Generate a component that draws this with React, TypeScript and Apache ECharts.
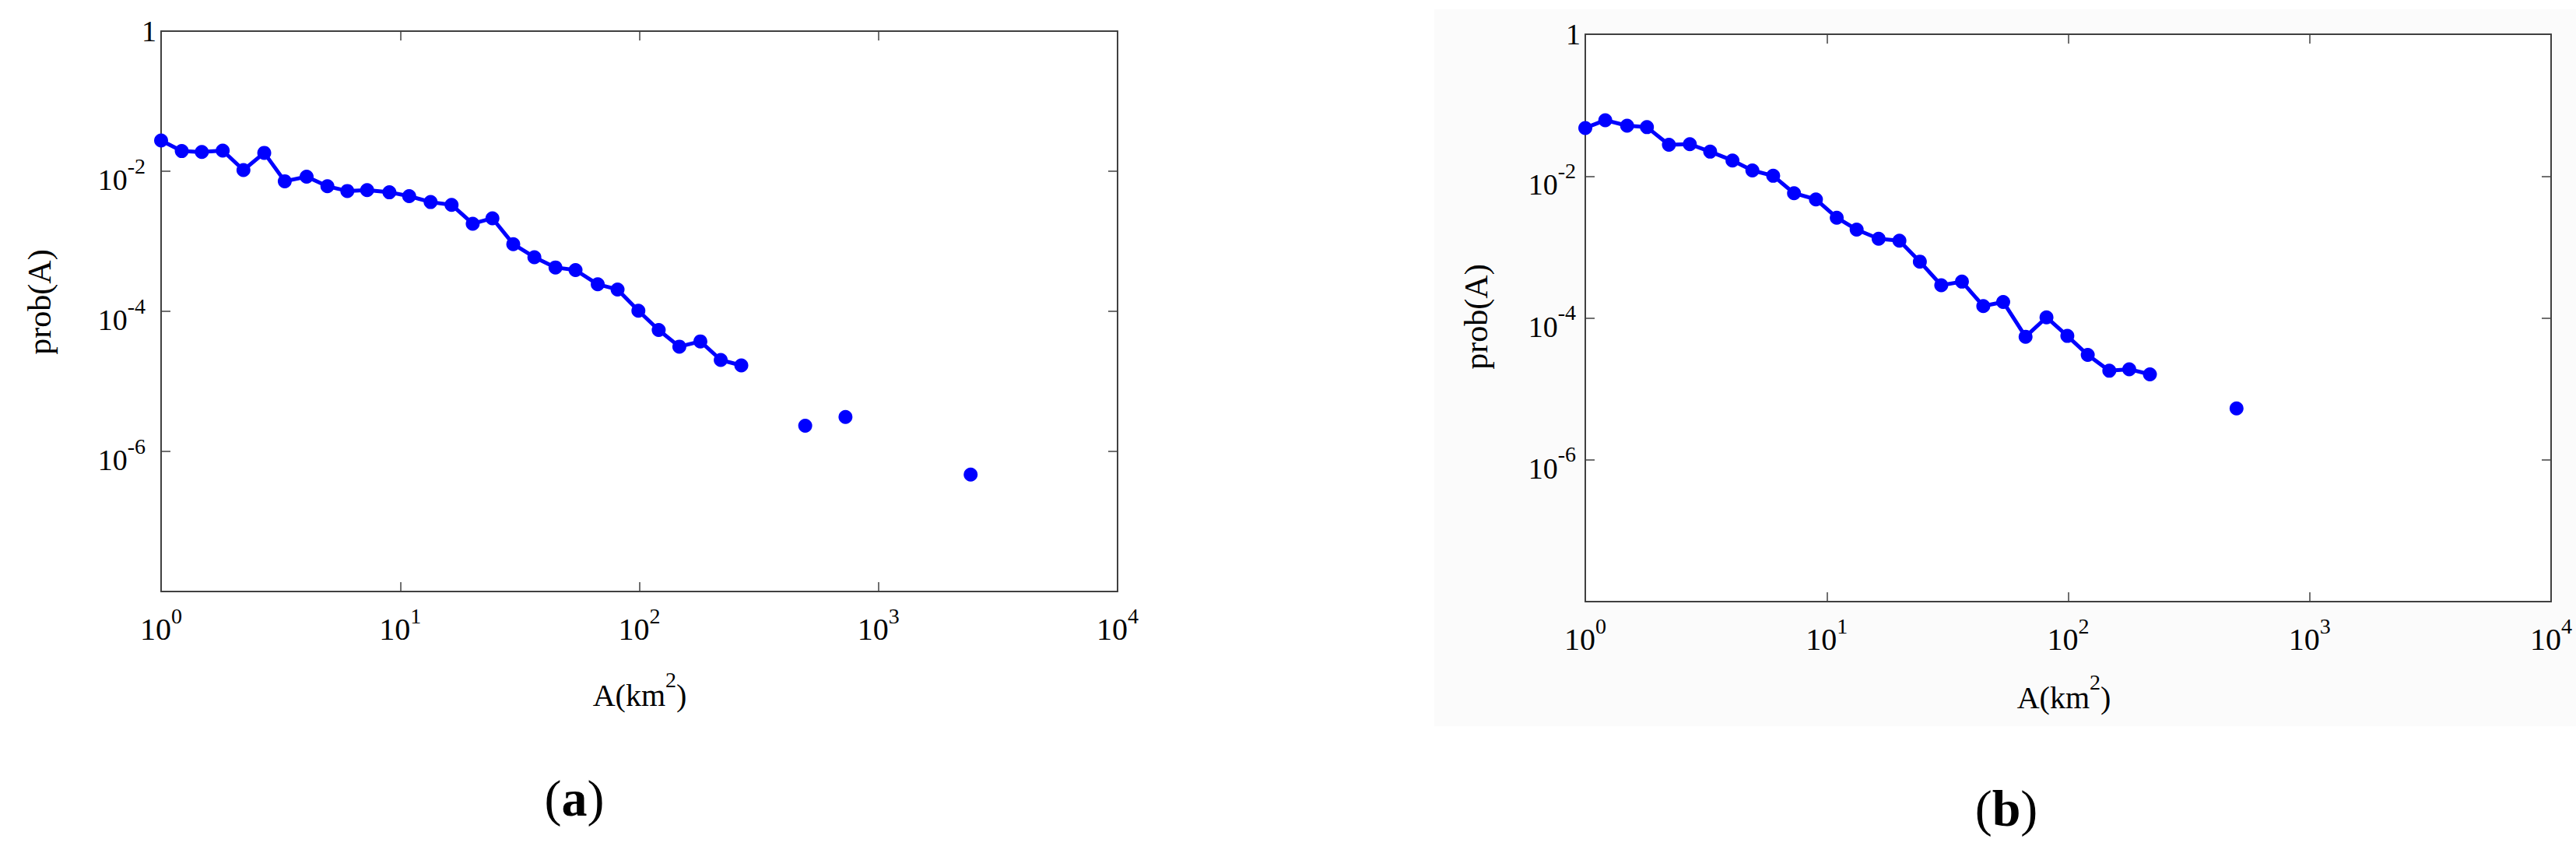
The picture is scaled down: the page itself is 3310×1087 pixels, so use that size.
import React, { useEffect, useRef } from "react";
import * as echarts from "echarts";

// ---- data ----
const leftLineX = [1, 1.22, 1.48, 1.81, 2.21, 2.7, 3.29, 4.06, 4.96, 6.01, 7.27, 9.01, 10.9, 13.4, 16.4, 20.1, 24.3, 29.7, 36.4, 44.6, 54.1, 67.0, 81.1, 99.1, 120.5, 147, 180, 219, 267];
const leftLineY = [0.0275, 0.0194, 0.0188, 0.0197, 0.0104, 0.0183, 0.00719, 0.00836, 0.0061, 0.00522, 0.00537, 0.005, 0.00441, 0.00363, 0.00331, 0.00178, 0.00213, 0.00091, 0.000593, 0.000423, 0.000388, 0.000243, 0.000205, 0.000102, 5.42e-5, 3.13e-5, 3.72e-5, 2.02e-5, 1.69e-5];
const leftIsoX = [494, 728, 2430];
const leftIsoY = [2.33e-6, 3.1e-6, 4.68e-7];

const rightLineX = [1, 1.21, 1.49, 1.8, 2.22, 2.71, 3.29, 4.07, 4.92, 6.0, 7.32, 9.02, 11.0, 13.3, 16.4, 20.0, 24.3, 29.8, 36.3, 44.5, 53.8, 66.6, 81.3, 99.2, 120.5, 148, 179, 218];
const rightLineY = [0.0477, 0.0614, 0.0513, 0.049, 0.0277, 0.0282, 0.0221, 0.0166, 0.012, 0.0101, 0.00574, 0.00469, 0.00259, 0.00176, 0.00131, 0.00123, 0.000622, 0.000289, 0.000325, 0.000147, 0.000168, 5.43e-5, 0.000102, 5.58e-5, 3.01e-5, 1.8e-5, 1.89e-5, 1.6e-5];
const rightIsoX = [498];
const rightIsoY = [5.31e-6];

const xMin = 1;
const xMax = 10000;
const yMin = 1e-8;
const yMax = 1;

const yAxisTitle = "prob(A)";
const xAxisTitleBase = "A(km";
const xAxisTitleSup = "2";
const panelLabels = ["a", "b"];

const FONT = "'Liberation Serif', 'Times New Roman', Times, serif";
const BLUE = "#0000ff";
const AXIS = "#404040";

const zip = (xs: number[], ys: number[]) => xs.map((x, i) => [x, ys[i]]);
const exp10 = (v: number) => Math.round(Math.log10(v));

function yRich(padR: number) {
  return {
    b: { fontSize: 38, fontFamily: FONT, color: "#000", lineHeight: 60, verticalAlign: "bottom" },
    s: { fontSize: 28, fontFamily: FONT, color: "#000", lineHeight: 20, verticalAlign: "top", padding: [9, padR, 0, 0] },
    o: { fontSize: 38, fontFamily: FONT, color: "#000", lineHeight: 40 },
  };
}
const xRich = {
  b: { fontSize: 40, fontFamily: FONT, color: "#000", lineHeight: 60, verticalAlign: "bottom" },
  s: { fontSize: 28, fontFamily: FONT, color: "#000", lineHeight: 20, verticalAlign: "top", padding: [9, 0, 0, 0] },
};

function xAxes(gi: number) {
  const common = {
    type: "log",
    logBase: 10,
    min: xMin,
    max: xMax,
    interval: 1,
    gridIndex: gi,
    splitLine: { show: false },
    axisLine: { show: true, onZero: false, lineStyle: { color: AXIS, width: 2 } },
    axisTick: { show: true, inside: true, length: 12, lineStyle: { color: AXIS, width: 1.5 } },
  };
  return [
    {
      ...common,
      position: "bottom",
      axisLabel: {
        margin: 8,
        formatter: (v: number) => `{b|10}{s|${exp10(v)}}`,
        rich: xRich,
      },
    },
    { ...common, position: "top", axisLabel: { show: false } },
  ];
}

function yAxes(gi: number, padR: number) {
  const common = {
    type: "log",
    logBase: 10,
    min: yMin,
    max: yMax,
    interval: 2,
    gridIndex: gi,
    splitLine: { show: false },
    axisLine: { show: true, onZero: false, lineStyle: { color: AXIS, width: 2 } },
    axisTick: { show: true, inside: true, length: 12, lineStyle: { color: AXIS, width: 1.5 } },
  };
  return [
    {
      ...common,
      position: "left",
      axisLabel: {
        margin: 6,
        showMinLabel: false,
        formatter: (v: number) => {
          const e = exp10(v);
          return e === 0 ? "{o|1}" : `{b|10}{s|${e}}`;
        },
        rich: yRich(padR),
      },
    },
    { ...common, position: "right", axisLabel: { show: false } },
  ];
}

function lineSeries(xi: number, xs: number[], ys: number[]) {
  return {
    type: "line",
    xAxisIndex: xi,
    yAxisIndex: xi,
    data: zip(xs, ys),
    symbol: "circle",
    symbolSize: 18,
    showSymbol: true,
    lineStyle: { color: BLUE, width: 5 },
    itemStyle: { color: BLUE, opacity: 1 },
  };
}
function dotSeries(xi: number, xs: number[], ys: number[]) {
  return {
    type: "scatter",
    xAxisIndex: xi,
    yAxisIndex: xi,
    data: zip(xs, ys),
    symbol: "circle",
    symbolSize: 18,
    itemStyle: { color: BLUE, opacity: 1 },
  };
}

const titleRich = {
  m: { fontSize: 40, fontFamily: FONT, fill: "#000", lineHeight: 60, verticalAlign: "bottom" },
  s: { fontSize: 28, fontFamily: FONT, fill: "#000", lineHeight: 20, verticalAlign: "top", padding: [6, 0, 0, 0] },
};
const panelRich = {
  p: { fontSize: 66, fontFamily: FONT, fill: "#000" },
  l: { fontSize: 66, fontFamily: FONT, fontWeight: "bold", fill: "#000" },
};

export default function App() {
  const ref = useRef<HTMLDivElement>(null);
  useEffect(() => {
    document.body.style.margin = "0";
    const chart = echarts.init(ref.current!, null, { renderer: "svg" });
    const option: any = {
      animation: false,
      backgroundColor: "#ffffff",
      grid: [
        { left: 207, top: 40, width: 1229, height: 720, show: true, backgroundColor: "#ffffff", borderWidth: 0 },
        { left: 2037, top: 44, width: 1241, height: 729, show: true, backgroundColor: "#ffffff", borderWidth: 0 },
      ],
      xAxis: [...xAxes(0), ...xAxes(1)],
      yAxis: [...yAxes(0, 14), ...yAxes(1, 6)],
      series: [
        lineSeries(0, leftLineX, leftLineY),
        dotSeries(0, leftIsoX, leftIsoY),
        lineSeries(2, rightLineX, rightLineY),
        dotSeries(2, rightIsoX, rightIsoY),
      ],
      graphic: [
        {
          type: "rect",
          z: -100,
          silent: true,
          shape: { x: 1843, y: 12, width: 1467, height: 921 },
          style: { fill: "#fbfbfb" },
        },
        {
          type: "text",
          x: 51,
          y: 388,
          rotation: Math.PI / 2,
          style: { text: yAxisTitle, font: `42px ${FONT}`, fill: "#000", align: "center", verticalAlign: "middle" },
        },
        {
          type: "text",
          x: 1897,
          y: 407,
          rotation: Math.PI / 2,
          style: { text: yAxisTitle, font: `42px ${FONT}`, fill: "#000", align: "center", verticalAlign: "middle" },
        },
        {
          type: "text",
          x: 822,
          y: 883,
          style: {
            text: `{m|${xAxisTitleBase}}{s|${xAxisTitleSup}}{m|)}`,
            rich: titleRich,
            align: "center",
            verticalAlign: "middle",
          },
        },
        {
          type: "text",
          x: 2652,
          y: 886,
          style: {
            text: `{m|${xAxisTitleBase}}{s|${xAxisTitleSup}}{m|)}`,
            rich: titleRich,
            align: "center",
            verticalAlign: "middle",
          },
        },
        {
          type: "text",
          x: 738,
          y: 1025,
          style: { text: `{p|(}{l|${panelLabels[0]}}{p|)}`, rich: panelRich, align: "center", verticalAlign: "middle" },
        },
        {
          type: "text",
          x: 2578,
          y: 1038,
          style: { text: `{p|(}{l|${panelLabels[1]}}{p|)}`, rich: panelRich, align: "center", verticalAlign: "middle" },
        },
      ],
    };
    chart.setOption(option);
    return () => chart.dispose();
  }, []);
  return <div ref={ref} style={{ width: 3310, height: 1087 }} />;
}
